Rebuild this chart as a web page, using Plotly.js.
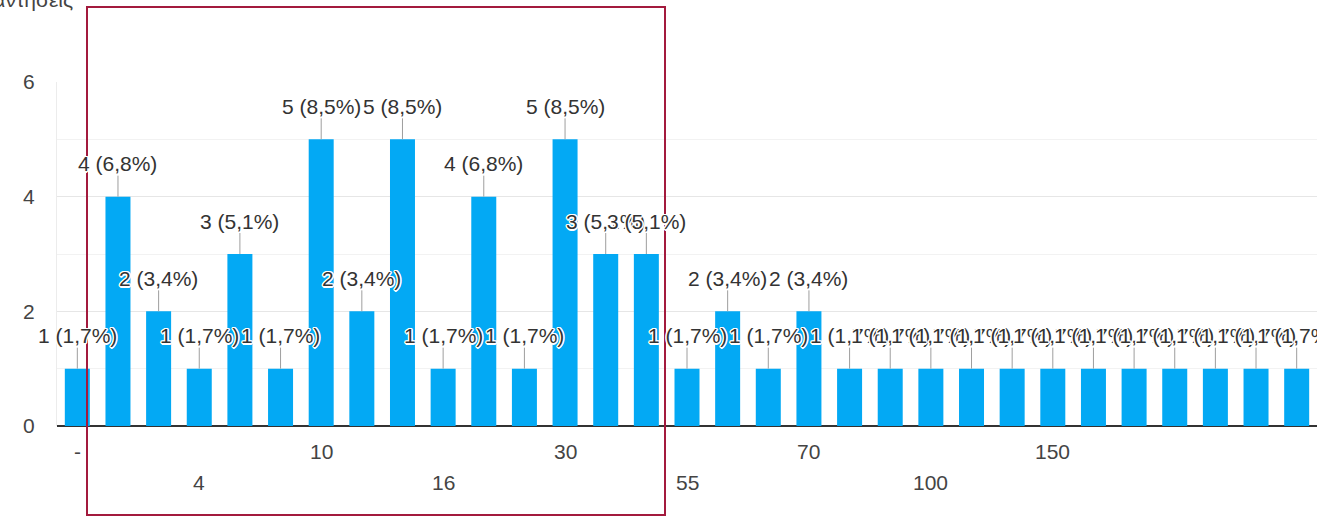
<!DOCTYPE html>
<html>
<head>
<meta charset="utf-8">
<script src="https://cdn.plot.ly/plotly-3.0.1.min.js"></script>
<style>
  html, body { margin: 0; padding: 0; background: #fff; }
  #chart { width: 1317px; height: 517px; }
</style>
</head>
<body>
<div id="chart"></div>
<script>
// Response categories (only every third one is labelled on the axis)
const categories = ["-", "2", "3", "4", "5", "8", "10", "12", "15", "16", "20", "25", "30", "40", "50",
  "55", "60", "65", "70", "75", "80", "100", "120", "130", "150", "170", "180", "200", "250", "300", "500"];
// Number of responses per category
const counts = [1, 4, 2, 1, 3, 1, 5, 2, 5, 1, 4, 1, 5, 3, 3,
  1, 2, 1, 2, 1, 1, 1, 1, 1, 1, 1, 1, 1, 1, 1, 1];
// Axis labels visible in the picture
const shownTicks = ["-", "4", "10", "16", "30", "55", "70", "100", "150"];
const yTicks = [0, 2, 4, 6];
const yTitle = "απαντήσεις";

const W = 1317, H = 517;
const M = { l: 57, r: 0, t: 82, b: 91 };
const plotW = W - M.l - M.r, plotH = H - M.t - M.b;
const px2x = p => (p - M.l) / plotW;
const px2y = p => 1 - (p - M.t) / plotH;

const total = counts.reduce((a, b) => a + b, 0);
const halo = "1.5px 0 0 #fff, -1.5px 0 0 #fff, 0 1.5px 0 #fff, 0 -1.5px 0 #fff, 1px 1px 0 #fff, -1px -1px 0 #fff, 1px -1px 0 #fff, -1px 1px 0 #fff";
const FONT = "Liberation Sans, Arial, sans-serif";

const annotations = [];
// value labels with leader lines
categories.forEach((c, i) => {
  const pct = (counts[i] / total * 100).toFixed(1).replace('.', ',');
  annotations.push({
    x: i, y: counts[i], xref: 'x', yref: 'y',
    text: counts[i] + ' (' + pct + '%)',
    showarrow: true, arrowhead: 0, arrowwidth: 1, arrowcolor: '#9e9e9e',
    ax: 0, ay: -33, standoff: 0, borderpad: 0,
    font: { family: FONT, size: 21, color: '#333', shadow: halo }
  });
});
// category tick labels, alternating two rows
shownTicks.forEach((t, k) => {
  annotations.push({
    x: categories.indexOf(t), y: 0, xref: 'x', yref: 'y', yanchor: 'middle',
    yshift: k % 2 === 0 ? -25 : -56,
    text: t, showarrow: false,
    font: { family: FONT, size: 21, color: '#444' }
  });
});
// partially visible axis title at the top-left
annotations.push({
  x: px2x(75), y: px2y(-1), xref: 'paper', yref: 'paper',
  xanchor: 'right', yanchor: 'middle', text: yTitle, showarrow: false,
  font: { family: FONT, size: 21, color: '#444' }
});

const data = [{
  type: 'bar', x: categories, y: counts,
  marker: { color: '#03a9f4', line: { width: 0 } },
  hoverinfo: 'x+y'
}];

const layout = {
  width: W, height: H,
  margin: { l: M.l, r: M.r, t: M.t, b: M.b, pad: 0, autoexpand: false },
  paper_bgcolor: '#fff', plot_bgcolor: '#fff',
  showlegend: false,
  bargap: 0.385,
  xaxis: {
    type: 'category', range: [-0.5, categories.length - 0.5],
    showticklabels: false, ticks: '', showgrid: false, zeroline: false, showline: false,
    fixedrange: true
  },
  yaxis: {
    range: [0, 6], tickvals: yTicks, ticks: '', ticklabelstandoff: 17,
    tickfont: { family: FONT, size: 21, color: '#444' },
    showgrid: true, gridcolor: '#e6e6e6', gridwidth: 1,
    minor: { dtick: 1, tick0: 0, showgrid: true, gridcolor: '#f2f2f2', gridwidth: 1, ticks: '' },
    zeroline: true, zerolinecolor: '#333', zerolinewidth: 2,
    showline: true, linecolor: '#ececec', linewidth: 1,
    fixedrange: true
  },
  annotations: annotations,
  shapes: [{
    type: 'rect', xref: 'paper', yref: 'paper',
    x0: px2x(87), x1: px2x(665), y0: px2y(515), y1: px2y(7),
    line: { color: '#a31a3d', width: 2 }, fillcolor: 'rgba(0,0,0,0)', layer: 'above'
  }]
};

Plotly.newPlot('chart', data, layout, { displayModeBar: false, staticPlot: true });
</script>
</body>
</html>
